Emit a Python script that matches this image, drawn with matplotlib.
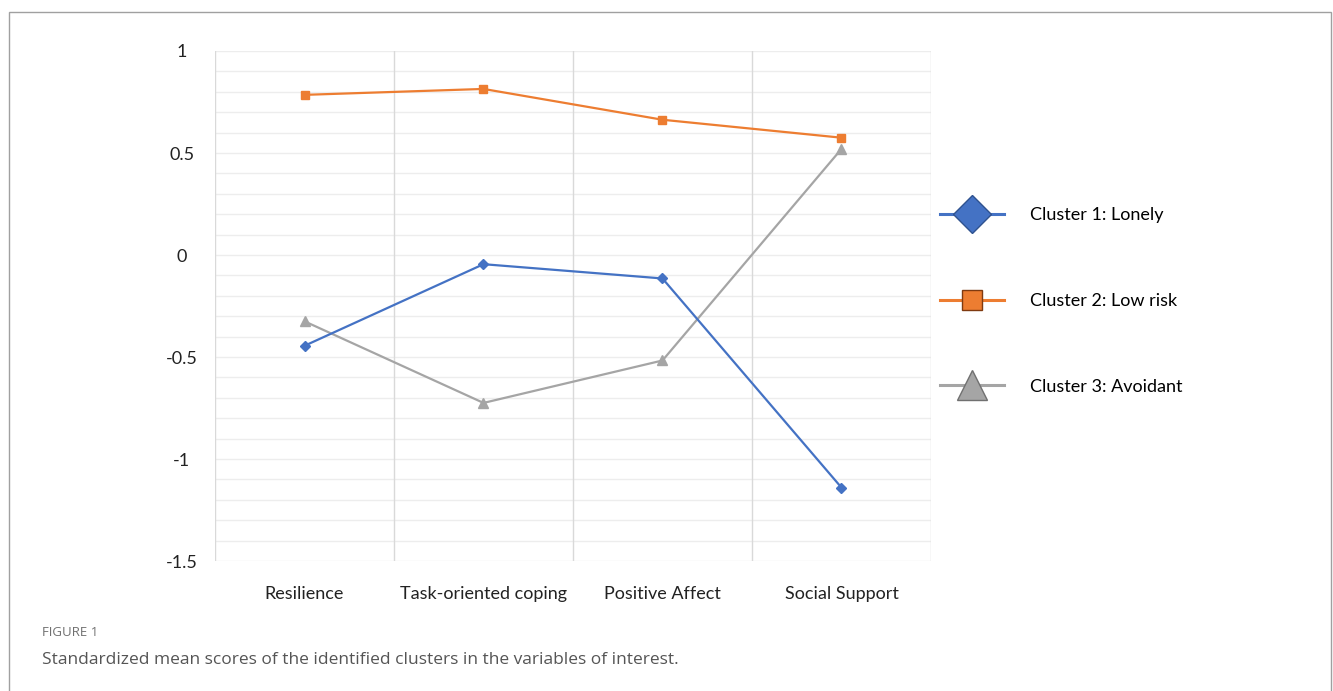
import numpy as np
import matplotlib.pyplot as plt
from matplotlib.lines import Line2D
from matplotlib.patches import Rectangle

# ==============================
# Datos
# ==============================
categories = ['Resilience', 'Task-oriented coping', 'Positive Affect', 'Social Support']
lonely = [-0.445, -0.045, -0.115, -1.14]
low_risk = [0.785, 0.814, 0.663, 0.575]
avoidant = [-0.325, -0.725, -0.517, 0.52]
series_names = ['Cluster 1: Lonely', 'Cluster 2: Low risk', 'Cluster 3: Avoidant']
y_ticks = [1, 0.5, 0, -0.5, -1, -1.5]
y_tick_labels = ['1', '0.5', '0', '-0.5', '-1', '-1.5']

blue = '#4472C4'
orange = '#ED7D31'
grey = '#A5A5A5'

plt.rcParams['font.family'] = ['Lato', 'DejaVu Sans']

fig = plt.figure(figsize=(13.33, 6.91), dpi=100)
ax = fig.add_axes([0.1613, 0.1881, 0.5371, 0.7381])

x = np.arange(len(categories))

# rejilla horizontal cada 0.1
for yv in np.arange(-1.5, 1.0001, 0.1):
    ax.axhline(yv, color='#EDEDED', lw=1.0, zorder=0)
# separadores verticales entre categorías
for xv in np.arange(-0.5, len(categories), 1.0):
    ax.axvline(xv, color='#D9D9D9', lw=1.0, zorder=0)

ax.plot(x, lonely, color=blue, lw=1.6, marker='D', ms=5.5, zorder=3)
ax.plot(x, low_risk, color=orange, lw=1.6, marker='s', ms=6, zorder=3)
ax.plot(x, avoidant, color=grey, lw=1.6, marker='^', ms=7, zorder=2)

ax.set_xlim(-0.5, len(categories) - 0.5)
ax.set_ylim(-1.5, 1.0)
ax.set_xticks(x)
ax.set_xticklabels(categories, fontsize=13, color='#222222')
ax.set_yticks(y_ticks)
ax.set_yticklabels(y_tick_labels, fontsize=13, color='#222222', ha='center')
ax.tick_params(axis='both', length=0)
ax.tick_params(axis='x', pad=18)
ax.tick_params(axis='y', pad=24)
for s in ax.spines.values():
    s.set_visible(False)

# Leyenda
handles = [
    Line2D([0], [0], color=blue, lw=2.2, marker='D', ms=19,
           markerfacecolor=blue, markeredgecolor='#2F528F'),
    Line2D([0], [0], color=orange, lw=2.2, marker='s', ms=15,
           markerfacecolor=orange, markeredgecolor='#7F3A10'),
    Line2D([0], [0], color=grey, lw=2.2, marker='^', ms=22,
           markerfacecolor=grey, markeredgecolor='#707070'),
]
leg = fig.legend(handles, series_names, loc='center left',
                 bbox_to_anchor=(924 / 1333, 1 - 301 / 691),
                 frameon=False, fontsize=13, handlelength=3.55,
                 handletextpad=1.4, labelspacing=3.85)

# Marco y pie de figura
fig.patches.append(Rectangle((9 / 1333, -0.02), 1322 / 1333, 1 - 12 / 691 + 0.02,
                             transform=fig.transFigure, fill=False,
                             edgecolor='#A0A0A0', lw=1.0))
fig.text(42 / 1333, 1 - 633 / 691, 'FIGURE 1', fontsize=9.5, color='#707070',
         family=['Open Sans', 'DejaVu Sans'], va='center')
fig.text(42 / 1333, 1 - 660 / 691,
         'Standardized mean scores of the identified clusters in the variables of interest.',
         fontsize=12.5, color='#555555', family=['Open Sans', 'DejaVu Sans'], va='center')

fig.savefig('out.png', dpi=100)
